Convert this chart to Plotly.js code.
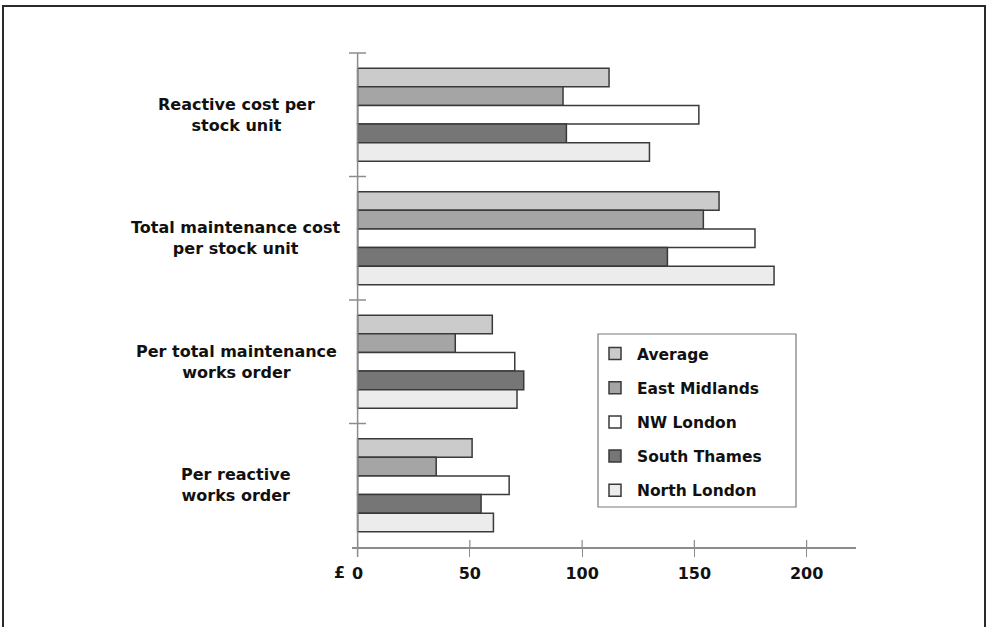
<!DOCTYPE html>
<html><head><meta charset="utf-8">
<script src="https://cdn.plot.ly/plotly-3.0.1.min.js"></script>
<style>
html,body{margin:0;padding:0;background:#fff;overflow:hidden;}
#chart{width:986px;height:627px;position:absolute;left:0;top:0;}
#frame{position:absolute;left:2px;top:5px;width:984px;height:640px;border:2px solid #2a2a2a;border-bottom:none;box-sizing:border-box;pointer-events:none;}
</style></head><body>
<div id="chart"></div><div id="frame"></div>
<script>
// ---- data ----
const categories = ["Reactive cost per<br>stock unit", "Total maintenance cost<br>per stock unit", "Per total maintenance<br>works order", "Per reactive<br>works order"];
const seriesNames = ["Average", "East Midlands", "NW London", "South Thames", "North London"];
const average      = [112, 161, 60, 51];
const eastMidlands = [91.5, 154, 43.5, 35];
const nwLondon     = [152, 177, 70, 67.5];
const southThames  = [93, 138, 74, 55];
const northLondon  = [130, 185.5, 71, 60.5];
const xTickVals = [0, 50, 100, 150, 200];
const xTickText = ["0", "50", "100", "150", "200"];
const currencyLabel = "£";

// ---- styling ----
const fills = ["#cbcbcb", "#a5a5a5", "#ffffff", "#767676", "#ececec"];
const seriesValues = [average, eastMidlands, nwLondon, southThames, northLondon];
const FONT = "DejaVu Sans";
const M = {l: 352, r: 130, t: 53, b: 80};
const W = 986 - M.l - M.r, H = 627 - M.t - M.b;
const px = x => (x - M.l) / W;          // page px -> paper x
const py = y => (627 - M.b - y) / H;    // page px -> paper y
const axisColor = "#8c8c8c";

const traces = seriesNames.map((name, i) => ({
  type: "bar", orientation: "h", name: name,
  x: seriesValues[i], y: categories,
  legendgroup: "g" + i,
  marker: {color: fills[i], line: {color: "#3a3a3a", width: 1.5}},
  hoverinfo: "x+name"
}));

const shapes = [];
// y axis line at x=0
shapes.push({type: "line", xref: "x", yref: "paper", x0: 0, x1: 0, y0: py(557), y1: 1, line: {color: axisColor, width: 1.5}});
// crossing ticks at category boundaries
for (let i = 0; i < categories.length; i++) {
  const yy = 1 - i / categories.length;
  shapes.push({type: "line", xref: "paper", yref: "paper", x0: px(349), x1: px(366), y0: yy, y1: yy, line: {color: axisColor, width: 1.5}});
}
// inner half of x ticks
xTickVals.forEach(v => shapes.push({type: "line", xref: "x", yref: "paper", x0: v, x1: v, y0: 0, y1: 7 / H, line: {color: axisColor, width: 1.2}}));
// legend box
shapes.push({type: "rect", xref: "paper", yref: "paper", x0: px(598), x1: px(796), y0: py(507), y1: py(334), line: {color: "#7a7a7a", width: 1.2}, fillcolor: "rgba(0,0,0,0)"});

const annotations = categories.map(c => ({
  xref: "paper", yref: "y", x: px(236), y: c, text: c, showarrow: false,
  xanchor: "center", yanchor: "middle", align: "center",
  font: {family: FONT, size: 16, color: "#111", weight: "bold"}
}));
annotations.push({xref: "paper", yref: "paper", x: px(339), y: py(572), text: currencyLabel, showarrow: false,
  xanchor: "center", yanchor: "middle", font: {family: FONT, size: 16, color: "#111", weight: "bold"}});

const layout = {
  width: 986, height: 627,
  margin: M,
  paper_bgcolor: "#fff", plot_bgcolor: "#fff",
  barmode: "group", bargap: 0.245, bargroupgap: 0,
  xaxis: {
    range: [-2.5, 222], showline: true, linecolor: axisColor, linewidth: 1.5,
    ticks: "outside", ticklen: 8, tickcolor: axisColor, tickwidth: 1.2,
    tickvals: xTickVals, ticktext: xTickText, ticklabelstandoff: 3,
    tickfont: {family: FONT, size: 16, color: "#111", weight: "bold"},
    showgrid: false, zeroline: false, fixedrange: true
  },
  yaxis: {
    type: "category", categoryarray: categories, categoryorder: "array",
    range: [categories.length - 0.5, -0.5],
    showline: false, showticklabels: false, ticks: "", showgrid: false, zeroline: false, fixedrange: true
  },
  showlegend: true,
  legend: {
    x: px(593), y: py(337), xanchor: "left", yanchor: "top",
    bgcolor: "rgba(0,0,0,0)", borderwidth: 0, traceorder: "grouped", tracegroupgap: 11,
    itemwidth: 34,
    font: {family: FONT, size: 15.5, color: "#111", weight: "bold"}
  },
  shapes: shapes,
  annotations: annotations
};

Plotly.newPlot("chart", traces, layout, {displayModeBar: false, staticPlot: true});
</script>
</body></html>
